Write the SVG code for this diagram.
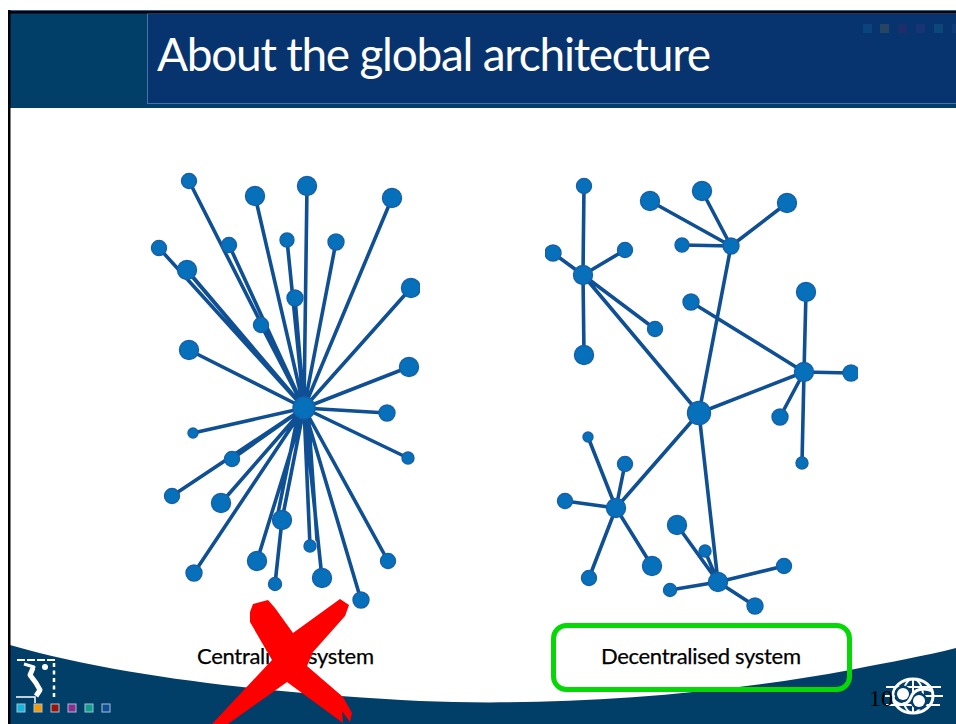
<svg xmlns="http://www.w3.org/2000/svg" width="956" height="724" viewBox="0 0 956 724">
<style>
.e{stroke:#0f4f94;stroke-width:3.6;fill:none;stroke-linecap:round}
.n{fill:#0670bb;stroke:#1560a8;stroke-width:1.4}
.t{font-family:"Lato","Open Sans","Liberation Sans",sans-serif;font-size:22px;fill:#000;stroke:#000;stroke-width:.25}
.s{stroke:#a8c0d2;stroke-width:1}
.f{opacity:.22}
.w{stroke:#fff;fill:none}
</style>
<defs>
<clipPath id="cl"><rect x="140" y="160" width="280" height="460"/></clipPath>
<clipPath id="cr"><rect x="545" y="160" width="313" height="460"/></clipPath>
</defs>
<rect width="956" height="724" fill="#fff"/>
<g id="bottom-band">
<path d="M10 645C130 680 300 695 420 701C540 706 700 698 850 670C890 662 925 656 956 648V724H10Z" fill="#023f68"/>
</g>
<g id="header">
<rect x="8" y="10" width="948" height="98" fill="#023f68"/>
<rect x="147.500" y="13.500" width="810" height="90" fill="#07336e" stroke="#3f74ac"/>
<rect x="8" y="10" width="948" height="1.500" fill="#2f5f9e"/>
<rect x="8" y="11" width="948" height="2.500" fill="#000"/>
<rect x="8" y="10" width="2.500" height="714" fill="#000"/>
<g class="f">
<rect x="863" y="24" width="9" height="9" fill="#1b7fb0"/>
<rect x="880" y="24" width="9" height="9" fill="#9a8040"/>
<rect x="898" y="24" width="9" height="9" fill="#6a2060"/>
<rect x="916" y="24" width="9" height="9" fill="#5a3a90"/>
<rect x="934" y="24" width="9" height="9" fill="#1b8fa0"/>
<rect x="952" y="24" width="4" height="9" fill="#2b5fa0"/>
</g>
<text x="157" y="71" font-family="Lato,'Open Sans','Liberation Sans',sans-serif" font-size="46" fill="#fff" textLength="554" lengthAdjust="spacing">About the global architecture</text>
</g>
<g id="connectors">
<g id="connectors-left" clip-path="url(#cl)">
<path class="e" d="M304 408L189 181M304 408L255 196M304 408L307 186M304 408L392 198M304 408L159 248M304 408L229 245M304 408L287 240M304 408L336 242M304 408L187 270M300 403L190 274M304 408L295 298M304 408L411 288M304 408L261 325M304 408L189 350M304 408L409 367M304 408L387 413M304 408L193 433M304 408L408 458M304 408L232 459M304 408L172 496M304 408L221 503M304 408L282 520M299 410L277 518M304 408L310 546M308 410L317 540M304 408L257 561M304 408L194 573M282 520L275 584M304 408L322 578M304 408L388 561M304 408L361 600"/>
</g>
<g id="connectors-right" clip-path="url(#cr)">
<path class="e" d="M583 275L584 186M583 275L553 253M583 275L625 250M583 275L655 329M583 275L584 355M583 275L699 413M731 246L650 201M731 246L702 191M731 246L787 203M731 246L682 245M731 246L699 413M804 372L691 302M804 372L806 292M804 372L850 373M804 372L780 417M804 372L802 463M804 372L699 413M699 413L616 508M699 413L718 582M616 508L588 437M616 508L625 464M616 508L565 501M616 508L652 566M616 508L589 578M718 582L677 525M718 582L705 551M718 582L784 566M718 582L670 590M718 582L755 606"/>
</g>
</g>
<g id="nodes-left" clip-path="url(#cl)">
<g id="l0"><circle class="n" cx="304" cy="408" r="11"/></g>
<g id="l1"><circle class="n" cx="189" cy="181" r="7.500"/></g>
<g id="l2"><circle class="n" cx="255" cy="196" r="9.500"/></g>
<g id="l3"><circle class="n" cx="307" cy="186" r="9.500"/></g>
<g id="l4"><circle class="n" cx="392" cy="198" r="9.500"/></g>
<g id="l5"><circle class="n" cx="159" cy="248" r="7.500"/></g>
<g id="l6"><circle class="n" cx="229" cy="245" r="7.500"/></g>
<g id="l7"><circle class="n" cx="287" cy="240" r="7"/></g>
<g id="l8"><circle class="n" cx="336" cy="242" r="8"/></g>
<g id="l9"><circle class="n" cx="187" cy="270" r="9.500"/></g>
<g id="l10"><circle class="n" cx="295" cy="298" r="8"/></g>
<g id="l11"><circle class="n" cx="411" cy="288" r="9.500"/></g>
<g id="l12"><circle class="n" cx="261" cy="325" r="7.500"/></g>
<g id="l13"><circle class="n" cx="189" cy="350" r="9.500"/></g>
<g id="l14"><circle class="n" cx="409" cy="367" r="9.500"/></g>
<g id="l15"><circle class="n" cx="387" cy="413" r="8"/></g>
<g id="l16"><circle class="n" cx="193" cy="433" r="5"/></g>
<g id="l17"><circle class="n" cx="408" cy="458" r="6"/></g>
<g id="l18"><circle class="n" cx="232" cy="459" r="7.500"/></g>
<g id="l19"><circle class="n" cx="172" cy="496" r="7.500"/></g>
<g id="l20"><circle class="n" cx="221" cy="503" r="9.500"/></g>
<g id="l21"><circle class="n" cx="282" cy="520" r="9.500"/></g>
<g id="l22"><circle class="n" cx="310" cy="546" r="6"/></g>
<g id="l23"><circle class="n" cx="257" cy="561" r="9.500"/></g>
<g id="l24"><circle class="n" cx="194" cy="573" r="8"/></g>
<g id="l25"><circle class="n" cx="275" cy="584" r="6.500"/></g>
<g id="l26"><circle class="n" cx="322" cy="578" r="9.500"/></g>
<g id="l27"><circle class="n" cx="388" cy="561" r="7.500"/></g>
<g id="l28"><circle class="n" cx="361" cy="600" r="8"/></g>
</g>
<g id="nodes-right" clip-path="url(#cr)">
<g id="r0"><circle class="n" cx="699" cy="413" r="11.500"/></g>
<g id="r1"><circle class="n" cx="583" cy="275" r="9.500"/></g>
<g id="r2"><circle class="n" cx="584" cy="186" r="7.500"/></g>
<g id="r3"><circle class="n" cx="553" cy="253" r="8"/></g>
<g id="r4"><circle class="n" cx="625" cy="250" r="7.500"/></g>
<g id="r5"><circle class="n" cx="655" cy="329" r="7.500"/></g>
<g id="r6"><circle class="n" cx="584" cy="355" r="9.500"/></g>
<g id="r7"><circle class="n" cx="731" cy="246" r="8"/></g>
<g id="r8"><circle class="n" cx="650" cy="201" r="9.500"/></g>
<g id="r9"><circle class="n" cx="702" cy="191" r="9.500"/></g>
<g id="r10"><circle class="n" cx="787" cy="203" r="9.500"/></g>
<g id="r11"><circle class="n" cx="682" cy="245" r="7"/></g>
<g id="r12"><circle class="n" cx="804" cy="372" r="9.500"/></g>
<g id="r13"><circle class="n" cx="691" cy="302" r="8"/></g>
<g id="r14"><circle class="n" cx="806" cy="292" r="9.500"/></g>
<g id="r15"><circle class="n" cx="851" cy="373" r="8"/></g>
<g id="r16"><circle class="n" cx="780" cy="417" r="8"/></g>
<g id="r17"><circle class="n" cx="802" cy="463" r="6"/></g>
<g id="r18"><circle class="n" cx="616" cy="508" r="9.500"/></g>
<g id="r19"><circle class="n" cx="588" cy="437" r="5"/></g>
<g id="r20"><circle class="n" cx="625" cy="464" r="7.500"/></g>
<g id="r21"><circle class="n" cx="565" cy="501" r="7.500"/></g>
<g id="r22"><circle class="n" cx="652" cy="566" r="9.500"/></g>
<g id="r23"><circle class="n" cx="589" cy="578" r="7.500"/></g>
<g id="r24"><circle class="n" cx="718" cy="582" r="9.500"/></g>
<g id="r25"><circle class="n" cx="677" cy="525" r="9.500"/></g>
<g id="r26"><circle class="n" cx="705" cy="551" r="6"/></g>
<g id="r27"><circle class="n" cx="784" cy="566" r="7.500"/></g>
<g id="r28"><circle class="n" cx="670" cy="590" r="6.500"/></g>
<g id="r29"><circle class="n" cx="755" cy="606" r="8"/></g>
</g>
<g id="label-centralised">
<text class="t" x="197" y="664" textLength="177" lengthAdjust="spacing">Centralised system</text>
</g>
<g id="label-decentralised">
<rect x="553.500" y="625.500" width="296" height="64" rx="13" fill="none" stroke="#05d905" stroke-width="5"/>
<text class="t" x="601" y="664" textLength="200" lengthAdjust="spacing">Decentralised system</text>
</g>
<g id="cross">
<path d="M250 612L253 604L268 600L275 608L293 633L340 599L349 605L345 616L313 652L307 666L343 697L352 713L350 722L342 711L343 723L287 682L228 724L212 724L272 660L250 622Z" fill="#fe0000"/>
</g>
<g id="athlete">
<path class="w" stroke-width="2" stroke-dasharray="8 2" d="M17 660H55"/>
<path class="w" stroke-width="2.500" stroke-dasharray="4 3.500" d="M54 663V697"/>
<path class="w" stroke-width="1.500" d="M16 697H35V703"/>
<path class="w" stroke-width="3" stroke-linejoin="round" d="M24 664L34 667L30 675"/>
<path class="w" stroke-width="5" stroke-linejoin="round" d="M33 668L30 675L36 683L40 690L36 696"/>
<circle cx="45" cy="667" r="3" fill="#fff"/>
</g>
<g id="squares">
<rect class="s" x="17" y="704" width="8" height="8" fill="#12b5dd"/>
<rect class="s" x="34" y="704" width="8" height="8" fill="#f59a00"/>
<rect class="s" x="51" y="704" width="8" height="8" fill="#9a1208"/>
<rect class="s" x="68" y="704" width="8" height="8" fill="#8a2d8c"/>
<rect class="s" x="85" y="704" width="8" height="8" fill="#0fa08c"/>
<rect class="s" x="102" y="704" width="8" height="8" fill="#0e4d93"/>
</g>
<g id="globe">
<ellipse class="w" stroke-width="3" cx="913" cy="696" rx="20" ry="17"/>
<ellipse class="w" stroke-width="2" cx="913" cy="696" rx="10" ry="17"/>
<path class="w" stroke-width="2" d="M913 678V714M886 687H941M885 696H943M886 705H940"/>
<circle cx="903" cy="694" r="8.500" fill="#023f68"/>
<circle cx="919" cy="701" r="8.500" fill="#023f68"/>
<circle cx="903" cy="694" r="6" fill="#fff"/>
<circle cx="919" cy="701" r="6" fill="#fff"/>
<path class="w" stroke-width="3" d="M892 697C898 709 908 705 911 697C914 689 924 687 932 691"/>
</g>
<g id="page-number">
<text x="869" y="706" font-family="'Liberation Serif',serif" font-size="24" fill="#000">10</text>
</g>
</svg>
